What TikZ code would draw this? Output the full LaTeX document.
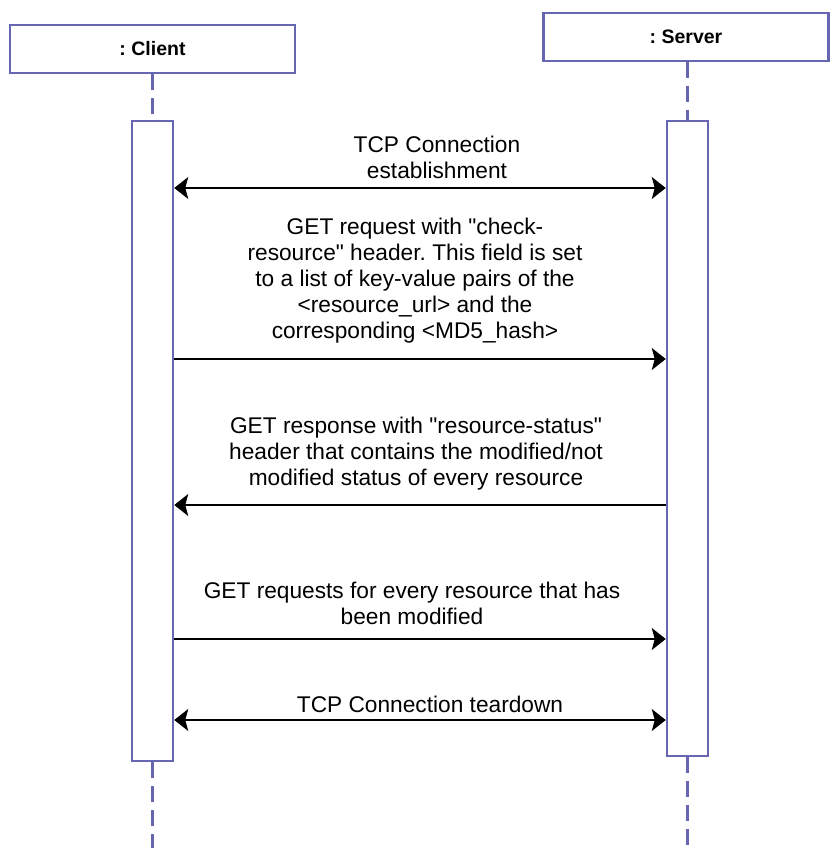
\documentclass[tikz,border=0pt]{standalone}
\usepackage{fontspec}
\setmainfont{Liberation Sans}
\usetikzlibrary{arrows.meta}
\definecolor{lifeblue}{RGB}{102,102,178}
\frenchspacing

\begin{document}
\begin{tikzpicture}[x=1pt,y=-1pt,>={Stealth[length=14pt,width=22pt,inset=3pt]}]
\tikzstyle{every node}+=[inner sep=0pt,font=\fontsize{22.7}{26}\selectfont]
\tikzstyle{objbox}=[draw=lifeblue,line width=2.5pt,fill=white,minimum width=285pt,minimum height=48pt,font=\fontsize{19.5}{22}\selectfont\bfseries]
\tikzstyle{actbox}=[draw=lifeblue,line width=2.5pt,fill=white,minimum width=41pt]
\tikzstyle{lifeline}=[draw=lifeblue,line width=2.5pt,dash pattern=on 16pt off 8pt]
\tikzstyle{msg}=[black,line width=1.6pt]
\useasboundingbox (0,0) rectangle (838,848);
% objects and activations
\node [objbox] (client) at (152.5,49) {: Client};
\node [objbox] (server) at (686,37) {: Server};
\coordinate (cend) at (152.5,848);
\coordinate (send) at (687.5,848);
\node [actbox,minimum height=640pt] (cact) at (152.5,441) {};
\node [actbox,minimum height=635pt] (sact) at (687.5,438.5) {};
\draw [lifeline] (client.south) -- (cact.north);
\draw [lifeline] (cact.south) -- (cend);
\draw [lifeline] (server.south -| sact.north) -- (sact.north);
\draw [lifeline] (sact.south) -- (send);
% messages
\coordinate (y1) at (0,188);
\coordinate (y2) at (0,359);
\coordinate (y3) at (0,505);
\coordinate (y4) at (0,639);
\coordinate (y5) at (0,720);
\node [align=center] (m1) at (437,157) {TCP Connection\\establishment};
\draw [msg,<->] (y1 -| cact.east) -- (y1 -| sact.west);
\node [align=center] (m2) at (415,281) {GET request with \textquotedbl check-\\resource\textquotedbl{} header. This field is set\\to a list of key-value pairs of the\\<resource\_url> and the\\corresponding <MD5\_hash>};
\draw [msg,->] (y2 -| cact.east) -- (y2 -| sact.west);
\node [align=center] (m3) at (416,454) {GET response with \textquotedbl resource-status\textquotedbl\\header that contains the modified/not\\modified status of every resource};
\draw [msg,->] (y3 -| sact.west) -- (y3 -| cact.east);
\node [align=center] (m4) at (412,603) {GET requests for every resource that has\\been modified};
\draw [msg,->] (y4 -| cact.east) -- (y4 -| sact.west);
\node (m5) at (430,704) {TCP Connection teardown};
\draw [msg,<->] (y5 -| cact.east) -- (y5 -| sact.west);
\end{tikzpicture}
\end{document}
